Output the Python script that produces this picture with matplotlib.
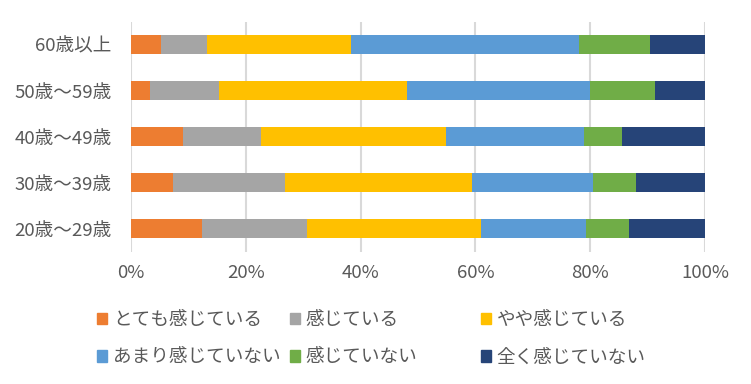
import matplotlib
matplotlib.use('Agg')
import matplotlib.pyplot as plt
from matplotlib.patches import Patch
import numpy as np

plt.rcParams['font.family'] = ['Noto Sans CJK JP', 'DejaVu Sans']

# Datos (porcentaje por grupo de edad)
categories = ['20歳〜29歳', '30歳〜39歳', '40歳〜49歳', '50歳〜59歳', '60歳以上']
series_names = ['とても感じている', '感じている', 'やや感じている',
                'あまり感じていない', '感じていない', '全く感じていない']
totemo = [12.4, 7.4, 9.1, 3.3, 5.3]
kanjiteiru = [18.3, 19.5, 13.5, 12.1, 8.0]
yaya = [30.3, 32.6, 32.3, 32.7, 25.1]
amari = [18.3, 21.0, 24.1, 31.8, 39.7]
kanjitenai = [7.5, 7.5, 6.6, 11.4, 12.4]
mattaku = [13.2, 12.0, 14.4, 8.7, 9.5]
colors = ['#ED7D31', '#A5A5A5', '#FFC000', '#5B9BD5', '#70AD47', '#264478']

series = [totemo, kanjiteiru, yaya, amari, kanjitenai, mattaku]
text_color = '#595959'
fs = 13.4

fig = plt.figure(figsize=(7.51, 3.84), dpi=100)
ax = fig.add_axes([0.1744, 0.344, 0.7643, 0.599])

# Normalizo cada fila a 100%
data = np.array(series, dtype=float)
data = data / data.sum(axis=0) * 100

y = np.arange(len(categories))
left = np.zeros(len(categories))
for vals, col, name in zip(data, colors, series_names):
    ax.barh(y, vals, left=left, height=0.41, color=col, label=name, zorder=3)
    left += vals

ax.set_xlim(0, 100)
ax.set_ylim(-0.5, len(categories) - 0.5)
ax.set_xticks(np.arange(0, 101, 20))
ax.set_xticklabels([f'{v}%' for v in range(0, 101, 20)])
ax.set_yticks(y)
ax.set_yticklabels(categories)
ax.grid(axis='x', color='#D9D9D9', linewidth=1.5, zorder=0)
for s in ax.spines.values():
    s.set_visible(False)
ax.tick_params(axis='both', length=0, labelsize=fs, colors=text_color)
ax.tick_params(axis='x', pad=8.5)
ax.tick_params(axis='y', pad=14)

# Leyenda en tres columnas separadas
col_x = [0.129, 0.386, 0.640]
for c in range(3):
    idx = [c, c + 3]
    handles = [Patch(color=colors[i]) for i in idx]
    labels = [series_names[i] for i in idx]
    leg = fig.legend(handles, labels, loc='center left',
                     bbox_to_anchor=(col_x[c], 0.118), frameon=False,
                     fontsize=fs, handlelength=0.56, handleheight=0.56,
                     handletextpad=0.3, labelspacing=1.05,
                     borderpad=0, borderaxespad=0)
    for t in leg.get_texts():
        t.set_color(text_color)

fig.savefig('out.png', dpi=100)
